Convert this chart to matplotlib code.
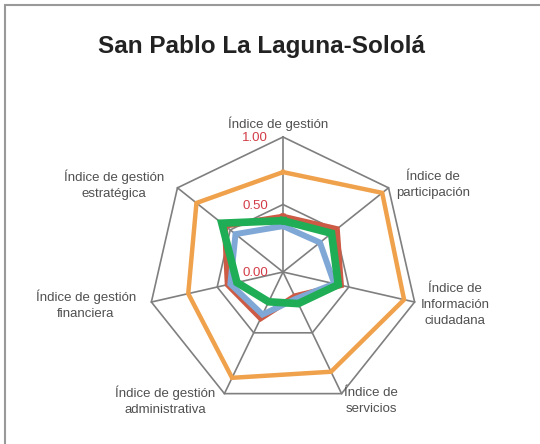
import numpy as np
import matplotlib
matplotlib.use("Agg")
import matplotlib.pyplot as plt
from matplotlib.patches import Rectangle

# Datos del gráfico
categorias = ['Índice de gestión', 'Índice de\nparticipación', 'Índice de\nInformación\nciudadana',
              'Índice de\nservicios', 'Índice de gestión\nadministrativa', 'Índice de gestión\nfinanciera',
              'Índice de gestión\nestratégica']
serie_naranja = [0.74, 0.94, 0.92, 0.82, 0.87, 0.72, 0.82]
serie_roja = [0.41, 0.51, 0.44, 0.20, 0.38, 0.42, 0.55]
serie_azul = [0.34, 0.35, 0.39, 0.22, 0.35, 0.40, 0.45]
serie_verde = [0.38, 0.46, 0.42, 0.26, 0.245, 0.35, 0.58]
niveles = [0.0, 0.5, 1.0]
etiquetas_niveles = ['0.00', '0.50', '1.00']

plt.rcParams['font.family'] = ['Liberation Sans', 'DejaVu Sans']

W, H = 540, 444
cx, cy, R = 283, 272, 135   # centro y radio en pixeles

fig = plt.figure(figsize=(W / 100, H / 100), dpi=100)
ax = fig.add_axes([0, 0, 1, 1])
ax.set_xlim(-cx / R, (W - cx) / R)
ax.set_ylim(-(H - cy) / R, cy / R)
ax.axis('off')

n = len(categorias)
ang = np.arange(n) * 2 * np.pi / n

def xy(vals):
    v = np.asarray(vals + vals[:1], dtype=float)
    a = np.append(ang, ang[0])
    return v * np.sin(a), v * np.cos(a)

# Rejilla en forma de heptágono
gris = '#7f7f7f'
for lv in niveles[1:]:
    gx, gy = xy([lv] * n)
    ax.plot(gx, gy, color=gris, lw=1.2, zorder=1)
for a in ang:
    ax.plot([0, np.sin(a)], [0, np.cos(a)], color=gris, lw=1.2, zorder=1)

# Series
for vals, col, lw in [(serie_naranja, '#f0a14c', 3.2), (serie_roja, '#cc5a44', 4.3),
                      (serie_azul, '#80a8d6', 4.3), (serie_verde, '#1fae55', 5.5)]:
    sx, sy = xy(vals)
    ax.plot(sx, sy, color=col, lw=lw, solid_joinstyle='miter', zorder=3)

# Etiquetas de los niveles
for lv, txt in zip(niveles, etiquetas_niveles):
    ax.text(-0.11, lv - 0.01, txt, color='#d23c48', fontsize=9.5, ha='right', va='center', zorder=4)

# Etiquetas de las categorías (posiciones en pixeles)
pos = [(278, 124), (433, 185), (455, 305), (371, 401), (165, 401), (86, 305), (114, 185)]
for txt, (px, py) in zip(categorias, pos):
    fig.text(px / W, 1 - py / H, txt, fontsize=9.5, color='#505050', ha='center', va='center',
             linespacing=1.4)

fig.text(261 / W, 1 - 47 / H, 'San Pablo La Laguna-Sololá', fontsize=17.5, fontweight='bold',
         color='#222222', ha='center', va='center')

# Marco del gráfico
fig.patches.append(Rectangle((5 / W, -0.1), 1.2, 1 - 5 / H + 0.1, transform=fig.transFigure,
                             fill=False, ec='#999999', lw=1.5))

fig.savefig('out.png', dpi=100)
